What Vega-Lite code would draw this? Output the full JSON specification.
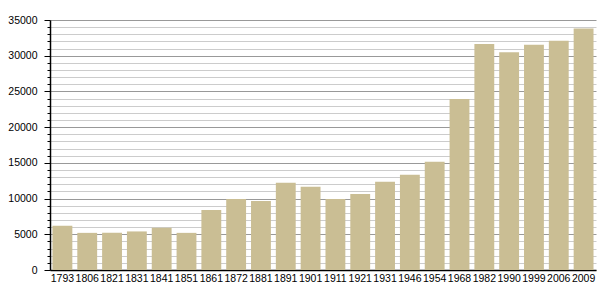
{
  "$schema": "https://vega.github.io/schema/vega-lite/v6.json",
  "width": 546,
  "height": 250,
  "autosize": {"type": "none"},
  "padding": {"left": 50, "top": 20, "right": 9, "bottom": 30},
  "background": "white",
  "config": {"view": {"stroke": null}, "font": "Liberation Sans"},
  "data": {"values": [
    {"year": "1793", "pop": 6200},
    {"year": "1806", "pop": 5200},
    {"year": "1821", "pop": 5200},
    {"year": "1831", "pop": 5400},
    {"year": "1841", "pop": 5900},
    {"year": "1851", "pop": 5200},
    {"year": "1861", "pop": 8400},
    {"year": "1872", "pop": 9950},
    {"year": "1881", "pop": 9650},
    {"year": "1891", "pop": 12200},
    {"year": "1901", "pop": 11650},
    {"year": "1911", "pop": 9950},
    {"year": "1921", "pop": 10650},
    {"year": "1931", "pop": 12350},
    {"year": "1946", "pop": 13350},
    {"year": "1954", "pop": 15150},
    {"year": "1968", "pop": 23950},
    {"year": "1982", "pop": 31650},
    {"year": "1990", "pop": 30500},
    {"year": "1999", "pop": 31550},
    {"year": "2006", "pop": 32100},
    {"year": "2009", "pop": 33800}
  ]},
  "mark": {"type": "bar", "color": "#cabe94"},
  "encoding": {
    "x": {
      "field": "year", "type": "ordinal", "title": null,
      "scale": {"paddingInner": 0.2},
      "axis": {"labelAngle": 0, "ticks": false, "domainColor": "#000", "domainWidth": 1.5, "labelFontSize": 10.5, "labelColor": "#000", "labelPadding": 3}
    },
    "y": {
      "field": "pop", "type": "quantitative", "title": null,
      "scale": {"domain": [0, 35000], "nice": false},
      "axis": {
        "values": [0,1000,2000,3000,4000,5000,6000,7000,8000,9000,10000,11000,12000,13000,14000,15000,16000,17000,18000,19000,20000,21000,22000,23000,24000,25000,26000,27000,28000,29000,30000,31000,32000,33000,34000,35000],
        "format": "d",
        "labelExpr": "datum.value % 5000 === 0 ? datum.label : ''",
        "grid": true,
        "gridColor": {"condition": {"test": "datum.value % 5000 === 0", "value": "#999999"}, "value": "#cccccc"},
        "gridWidth": 1,
        "tickSize": {"condition": {"test": "datum.value % 5000 === 0", "value": 6}, "value": 3},
        "tickColor": "#000",
        "domainColor": "#000",
        "domainWidth": 1.5,
        "labelFontSize": 10.5,
        "labelColor": "#000",
        "labelPadding": 7
      }
    }
  }
}
